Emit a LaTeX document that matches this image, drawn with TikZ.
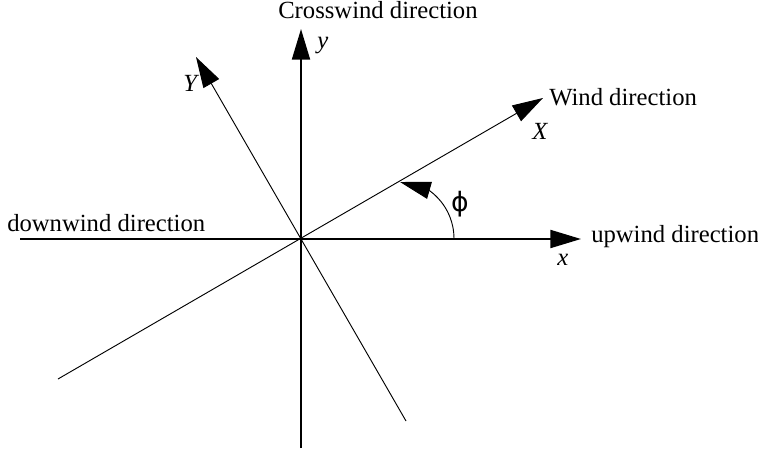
\documentclass[tikz,border=0pt]{standalone}
\usepackage{fontspec}
\setmainfont{Liberation Serif}
\newfontfamily\phiFont{DejaVu Sans}
\usetikzlibrary{arrows.meta, positioning}
\tikzstyle{mainAxis} = [line width=1.5pt, -{Triangle[length=23pt, width=13.5pt]}]
\tikzstyle{windAxis} = [line width=0.7pt, -{Triangle[length=23pt, width=13.5pt]}]
\tikzstyle{angleArrow} = [line width=0.7pt, -{Triangle[length=23pt, width=13pt]}]
\tikzstyle{dirText} = [inner sep=0pt, anchor=base west, font=\fontsize{18.5}{22}\selectfont]
\tikzstyle{axisLetter} = [dirText, font=\fontsize{18.5}{22}\selectfont\itshape]

\begin{document}
\begin{tikzpicture}[x=0.75pt, y=-0.75pt]
    \useasboundingbox (0,0) rectangle (758,453);

    % axes
    \coordinate (origin) at (301,239);
    \coordinate (downEnd) at (20,239);
    \coordinate (upEnd) at (581,239);
    \coordinate (crossLow) at (301,448);
    \coordinate (crossEnd) at (301,29);
    \coordinate (windLow) at (58,379);
    \coordinate (windEnd) at (543,98);
    \coordinate (perpLow) at (406,421);
    \coordinate (perpEnd) at (196,57);

    \draw [mainAxis] (downEnd) -- (upEnd);
    \draw [mainAxis] (crossLow) -- (crossEnd);
    \draw [windAxis] (windLow) -- (windEnd);
    \draw [windAxis] (perpLow) -- (perpEnd);

    % angle
    \coordinate (phiStart) at (454,239);
    \coordinate (phiEnd) at (400,182);
    \draw [angleArrow] (phiStart) .. controls (454,205) and (428,190) .. (phiEnd);
    \node (phiText) [inner sep=0pt, font=\fontsize{20}{24}\phiFont] at (460,204) {ϕ};

    % texts
    \node (crossText) [dirText] at (278,19) {Crosswind direction};
    \node (windText) [dirText] at (549,106) {Wind direction};
    \node (downText) [dirText] at (7,232) {downwind direction};
    \node (upText) [dirText] at (591,243) {upwind direction};

    \node (xName) [axisLetter] at (557,265) {x};
    \node (yName) [axisLetter] at (317,49) {y};
    \node (XName) [axisLetter] at (532,140) {X};
    \node (YName) [axisLetter] at (183,92) {Y};

\end{tikzpicture}
\end{document}
